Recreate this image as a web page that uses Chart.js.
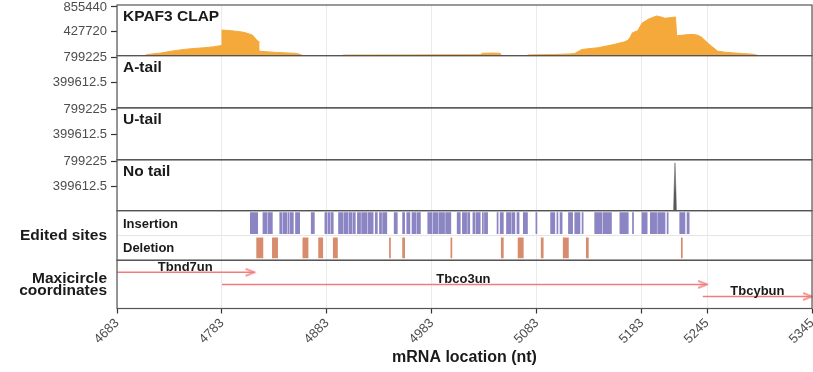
<!DOCTYPE html>
<html>
<head>
<meta charset="utf-8">
<title>KPAF3 CLAP coverage</title>
<script src="https://cdn.jsdelivr.net/npm/chart.js@4.4.1/dist/chart.umd.min.js"></script>
<style>
  html, body { margin: 0; padding: 0; background: #fff; }
  #wrap { width: 813px; height: 372px; position: relative; }
</style>
</head>
<body>
<div id="wrap"><canvas id="chart"></canvas></div>
<script>
// x axis
var xTickValues = [4683, 4783, 4883, 4983, 5083, 5183, 5245, 5345];

// read panels
var panelTitles = ["KPAF3 CLAP", "A-tail", "U-tail", "No tail"];
var panelTopTick = [855440, 799225, 799225, 799225];

// KPAF3 CLAP coverage (nt, reads)
var clapNt = [4683, 4709, 4712, 4725, 4731, 4740, 4747, 4756, 4766, 4775, 4781, 4782.5,
  4783, 4792, 4800, 4804, 4812, 4816, 4817.5, 4818, 4825, 4835, 4845, 4854, 4858, 4860,
  4897, 4899, 4960, 5000, 5029, 5031, 5040, 5046, 5048, 5049,
  5073, 5075, 5100, 5115, 5119, 5126, 5141, 5157, 5166, 5170, 5172, 5174, 5179, 5183,
  5189, 5197, 5203, 5205, 5215, 5216, 5225, 5231, 5236, 5240, 5246, 5255, 5262, 5269,
  5280, 5288, 5293, 5294, 5345];
var clapReads = [0, 0, 20000, 45000, 67000, 92000, 109000, 125000, 138000, 155000, 173000, 178000,
  450000, 437000, 420000, 409000, 362000, 273000, 255000, 79000, 68000, 56000, 47000, 39000, 18000, 0,
  0, 10000, 12000, 14000, 15000, 40000, 45000, 42000, 40000, 0,
  0, 12000, 20000, 30000, 39000, 109000, 138000, 198000, 240000, 273000, 330000, 402000, 437000, 568000,
  639000, 697000, 670000, 656000, 679000, 349000, 365000, 374000, 360000, 321000, 215000, 79000, 60000, 49000,
  35000, 26000, 5000, 0, 0];

// No tail reads
var noTailNt = [5213, 5214.5, 5216];
var noTailReads = [0, 780000, 0];

// edited sites [start, end] in nt
var editRows = ["Insertion", "Deletion"];
var insertionSites = [[4810, 4817], [4822, 4826], [4827, 4831], [4838, 4840], [4841, 4845], [4846, 4847],
  [4848, 4851], [4853, 4857], [4868, 4871], [4881, 4883], [4884, 4886], [4887, 4889], [4894, 4898],
  [4899, 4903], [4904, 4907], [4908, 4910], [4912, 4915], [4916, 4921], [4922, 4927], [4929, 4931],
  [4933, 4935], [4936, 4940], [4947, 4950], [4955, 4957], [4959, 4962], [4964, 4968], [4969, 4972],
  [4979, 4983], [4984, 4989], [4990, 4995], [4996, 5001], [5007, 5010], [5012, 5016], [5017, 5019],
  [5022, 5024], [5025, 5029], [5031, 5032], [5033, 5036], [5045, 5046], [5048, 5051], [5054, 5058],
  [5059, 5062], [5064, 5066], [5070, 5074], [5082, 5083], [5096, 5100], [5102, 5103], [5105, 5107],
  [5113, 5117], [5119, 5124], [5126, 5127], [5138, 5145], [5146, 5154], [5162, 5170], [5174, 5175],
  [5183, 5188], [5191, 5197], [5198, 5205], [5207, 5208], [5219, 5224], [5226, 5228]];
var deletionSites = [[4816, 4822], [4831, 4836], [4860, 4865], [4875, 4879], [4889, 4893],
  [4942.5, 4943.5], [4955, 4957], [5001, 5002], [5049, 5051], [5065, 5070], [5087, 5089],
  [5108, 5113], [5130, 5132], [5220.5, 5221.5]];

// maxicircle genes
var geneNames = ["Tbnd7un", "Tbco3un", "Tbcybun"];
var geneStart = [4683, 4783, 5241];
var geneEnd = [4814, 5245, 5345];
var geneRow = [3, 2, 1];
var geneLabelNt = [4748, 5013, 5293];

var panelAxes = ["yClap", "yATail", "yUTail", "yNoTail", "yEdit", "yMaxi"];
var arrowColor = "#F27C7C";

Chart.defaults.font.family = '"Liberation Sans", Arial, sans-serif';

// all left axes share one width, no extra padding
function fixWidth(scale) {
  scale.width = 117;
  scale.paddingTop = 0;
  scale.paddingBottom = 0;
  scale.paddingLeft = 0;
  scale.paddingRight = 0;
}

// y axis for a read panel, ticks at half and full top value
function readAxis(i, stackWeight) {
  var top = panelTopTick[i];
  return {
    type: "linear",
    position: "left",
    stack: "panels",
    stackWeight: stackWeight,
    weight: 6 - i,
    offset: false,
    min: 0,
    max: top * 1.04,
    afterBuildTicks: function (scale) {
      scale.ticks = [{ value: top / 2 }, { value: top }];
    },
    afterFit: fixWidth,
    border: { display: false },
    grid: { drawOnChartArea: false, tickLength: 6, tickColor: "#333", tickWidth: 1.2 },
    ticks: {
      padding: 4,
      color: "#4d4d4d",
      font: { size: 13 },
      callback: function (v) { return String(v); }
    }
  };
}

function makeArrowHead() {
  var c = document.createElement("canvas");
  c.width = 24;
  c.height = 10;
  var g = c.getContext("2d");
  g.strokeStyle = arrowColor;
  g.lineWidth = 1.5;
  g.beginPath();
  g.moveTo(3, 1.5);
  g.lineTo(12, 5);
  g.lineTo(3, 8.5);
  g.stroke();
  return c;
}

function toPoints(xs, ys) {
  return xs.map(function (x, i) { return { x: x, y: ys[i] }; });
}

// frames, panel titles and text labels
var panelPlugin = {
  id: "panels",
  afterDraw: function (chart) {
    var ctx = chart.ctx;
    var area = chart.chartArea;
    var sx = chart.scales.x;
    ctx.save();

    ctx.strokeStyle = "#555";
    ctx.lineWidth = 1.2;
    panelAxes.forEach(function (id) {
      var s = chart.scales[id];
      ctx.strokeRect(area.left, s.top, area.right - area.left, s.bottom - s.top);
    });

    ctx.fillStyle = "#1a1a1a";
    ctx.textAlign = "left";
    ctx.textBaseline = "alphabetic";
    ctx.font = 'bold 15.5px "Liberation Sans", Arial, sans-serif';
    panelTitles.forEach(function (t, i) {
      ctx.fillText(t, area.left + 6, chart.scales[panelAxes[i]].top + 16);
    });

    var se = chart.scales.yEdit;
    ctx.font = 'bold 13px "Liberation Sans", Arial, sans-serif';
    ctx.fillText(editRows[0], area.left + 6, se.getPixelForValue(1.5) + 4.5);
    ctx.fillText(editRows[1], area.left + 6, se.getPixelForValue(0.5) + 4.5);

    var sm = chart.scales.yMaxi;
    ctx.textAlign = "center";
    geneNames.forEach(function (g, i) {
      ctx.fillText(g, sx.getPixelForValue(geneLabelNt[i]), sm.getPixelForValue(geneRow[i]) - 1.5);
    });
    ctx.restore();
  }
};

var arrowHead = makeArrowHead();

var datasets = [
  {
    type: "line",
    label: "KPAF3 CLAP",
    data: toPoints(clapNt, clapReads),
    yAxisID: "yClap",
    fill: "origin",
    backgroundColor: "#F5A93B",
    borderColor: "#F5A93B",
    borderWidth: 1,
    pointRadius: 0,
    tension: 0
  },
  {
    type: "line",
    label: "No tail",
    data: toPoints(noTailNt, noTailReads),
    yAxisID: "yNoTail",
    fill: "origin",
    backgroundColor: "#5a5a5a",
    borderColor: "#5a5a5a",
    borderWidth: 0.5,
    pointRadius: 0
  },
  {
    type: "bar",
    label: "Insertion",
    indexAxis: "y",
    data: insertionSites.map(function (s) { return { x: s, y: 1.5 }; }),
    yAxisID: "yEdit",
    backgroundColor: "#8C85C4",
    borderWidth: 0,
    barThickness: 21,
    grouped: false
  },
  {
    type: "bar",
    label: "Deletion",
    indexAxis: "y",
    data: deletionSites.map(function (s) { return { x: s, y: 0.5 }; }),
    yAxisID: "yEdit",
    backgroundColor: "#D98C6D",
    borderWidth: 0,
    barThickness: 20,
    grouped: false
  }
];

geneNames.forEach(function (g, i) {
  datasets.push({
    type: "line",
    label: g,
    data: [{ x: geneStart[i], y: geneRow[i] }, { x: geneEnd[i], y: geneRow[i] }],
    yAxisID: "yMaxi",
    borderColor: arrowColor,
    borderWidth: 1.5,
    pointStyle: arrowHead,
    pointRadius: function (c) { return c.dataIndex === 1 ? 5 : 0; },
    fill: false,
    clip: false
  });
});

var canvas = document.getElementById("chart").getContext("2d");
window.chartMain = new Chart(canvas, {
  type: "line",
  data: { datasets: datasets },
  plugins: [panelPlugin],
  options: {
    responsive: true,
    maintainAspectRatio: false,
    animation: false,
    layout: { autoPadding: false, padding: { top: 5, right: 1, bottom: 0, left: 0 } },
    plugins: {
      legend: { display: false },
      tooltip: { enabled: false }
    },
    scales: {
      x: {
        type: "linear",
        position: "bottom",
        offset: false,
        min: 4683,
        max: 5345,
        afterBuildTicks: function (scale) {
          scale.ticks = xTickValues.map(function (v) { return { value: v }; });
        },
        afterFit: function (scale) {
          scale.height = 63.5;
          scale.paddingLeft = 0;
          scale.paddingRight = 0;
          scale.paddingTop = 0;
          scale.paddingBottom = 0;
        },
        border: { display: false },
        grid: { color: "#ebebeb", tickLength: 5, tickColor: "#333", tickWidth: 1.2, offset: false },
        ticks: {
          autoSkip: false,
          maxRotation: 45,
          minRotation: 45,
          padding: 2,
          color: "#4d4d4d",
          font: { size: 13 },
          callback: function (v) { return String(v); }
        },
        title: {
          display: true,
          text: "mRNA location (nt)",
          color: "#1a1a1a",
          font: { size: 16, weight: "bold" },
          padding: { top: 0, bottom: 5 }
        }
      },
      yClap: readAxis(0, 50.7),
      yATail: readAxis(1, 52.3),
      yUTail: readAxis(2, 52),
      yNoTail: readAxis(3, 51),
      yEdit: {
        type: "linear",
        position: "left",
        stack: "panels",
        stackWeight: 49.7,
        weight: 2,
        offset: false,
        min: 0,
        max: 2,
        afterBuildTicks: function (scale) { scale.ticks = [{ value: 1 }]; },
        afterFit: fixWidth,
        border: { display: false },
        grid: { color: "#e6e6e6", offset: false, tickLength: 6, tickColor: "rgba(0,0,0,0)" },
        ticks: {
          padding: 4,
          color: "#1a1a1a",
          font: { size: 15.5, weight: "bold" },
          callback: function () { return "Edited sites"; }
        }
      },
      yMaxi: {
        type: "linear",
        position: "left",
        stack: "panels",
        stackWeight: 48.3,
        weight: 1,
        offset: false,
        min: 0,
        max: 4,
        afterBuildTicks: function (scale) { scale.ticks = [{ value: 2 }]; },
        afterFit: fixWidth,
        border: { display: false },
        grid: { drawOnChartArea: false, tickLength: 6, tickColor: "rgba(0,0,0,0)" },
        ticks: {
          padding: 4,
          color: "#1a1a1a",
          font: { size: 15.5, weight: "bold", lineHeight: 0.78 },
          callback: function () { return ["Maxicircle", "coordinates"]; }
        }
      }
    }
  }
});
</script>
</body>
</html>
